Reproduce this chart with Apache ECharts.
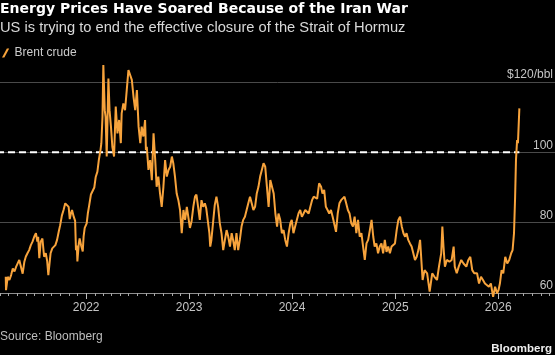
<!DOCTYPE html>
<html><head><meta charset="utf-8">
<script src="https://cdn.jsdelivr.net/npm/echarts@6/dist/echarts.min.js"></script>
<style>html,body{margin:0;padding:0;background:#000;}#c{width:555px;height:355px;}</style>
</head><body><div id="c"></div>
<script>
// ---- data ----
const dates = [
'2021-03-22','2021-03-23','2021-03-29','2021-04-04','2021-04-10','2021-04-16','2021-04-22','2021-04-28','2021-05-03','2021-05-09','2021-05-15','2021-05-21','2021-05-27','2021-06-01','2021-06-07','2021-06-13','2021-06-19','2021-06-25','2021-07-01','2021-07-07','2021-07-12','2021-07-15','2021-07-19','2021-07-24','2021-07-30','2021-08-05','2021-08-11','2021-08-16','2021-08-20','2021-08-28','2021-09-03','2021-09-09','2021-09-14','2021-09-20','2021-09-26','2021-10-01','2021-10-07','2021-10-13','2021-10-19','2021-10-25','2021-10-31','2021-11-04','2021-11-08','2021-11-12','2021-11-18','2021-11-23','2021-11-26','2021-11-29','2021-12-01','2021-12-06','2021-12-09','2021-12-14','2021-12-20','2021-12-23','2021-12-27',
'2022-01-03','2022-01-07','2022-01-12','2022-01-18','2022-01-24','2022-01-30','2022-02-04','2022-02-10','2022-02-15','2022-02-21','2022-02-24','2022-02-28','2022-03-03','2022-03-08','2022-03-11','2022-03-15','2022-03-21','2022-03-25','2022-03-30','2022-04-04','2022-04-10','2022-04-16','2022-04-22','2022-04-28','2022-05-04','2022-05-07','2022-05-13','2022-05-19','2022-05-25','2022-05-31','2022-06-06','2022-06-12','2022-06-18','2022-06-24','2022-06-30','2022-07-06','2022-07-12','2022-07-17','2022-07-23','2022-07-29','2022-08-01','2022-08-04','2022-08-10','2022-08-16','2022-08-22','2022-08-28','2022-09-03','2022-09-08','2022-09-14','2022-09-20','2022-09-26','2022-10-02','2022-10-08','2022-10-14','2022-10-20','2022-10-26','2022-11-01','2022-11-06','2022-11-12','2022-11-18','2022-11-24','2022-11-30','2022-12-06','2022-12-12','2022-12-18','2022-12-24','2022-12-30',
'2023-01-04','2023-01-10','2023-01-16','2023-01-22','2023-01-27','2023-02-02','2023-02-08','2023-02-14','2023-02-20','2023-02-26','2023-03-03','2023-03-09','2023-03-14','2023-03-17','2023-03-21','2023-03-27','2023-04-02','2023-04-08','2023-04-14','2023-04-20','2023-04-26','2023-05-02','2023-05-08','2023-05-14','2023-05-20','2023-05-26','2023-06-01','2023-06-06','2023-06-12','2023-06-18','2023-06-24','2023-06-30','2023-07-06','2023-07-12','2023-07-18','2023-07-24','2023-07-30','2023-08-05','2023-08-11','2023-08-17','2023-08-23','2023-08-29','2023-09-04','2023-09-10','2023-09-16','2023-09-22','2023-09-28','2023-10-04','2023-10-10','2023-10-16','2023-10-22','2023-10-28','2023-11-03','2023-11-09','2023-11-14','2023-11-20','2023-11-26','2023-12-02','2023-12-08','2023-12-14','2023-12-20','2023-12-26','2023-12-31',
'2024-01-06','2024-01-12','2024-01-18','2024-01-24','2024-01-30','2024-02-05','2024-02-11','2024-02-17','2024-02-23','2024-02-29','2024-03-06','2024-03-12','2024-03-18','2024-03-24','2024-03-30','2024-04-06','2024-04-13','2024-04-18','2024-04-24','2024-04-30','2024-05-06','2024-05-12','2024-05-18','2024-05-24','2024-05-30','2024-06-05','2024-06-11','2024-06-17','2024-06-23','2024-06-29','2024-07-05','2024-07-11','2024-07-17','2024-07-23','2024-07-29','2024-08-04','2024-08-10','2024-08-16','2024-08-22','2024-08-28','2024-09-03','2024-09-09','2024-09-15','2024-09-21','2024-09-27','2024-10-03','2024-10-09','2024-10-15','2024-10-20','2024-10-26','2024-11-01','2024-11-07','2024-11-13','2024-11-19','2024-11-25','2024-12-01','2024-12-07','2024-12-13','2024-12-19','2024-12-25','2024-12-31',
'2025-01-06','2025-01-12','2025-01-18','2025-01-24','2025-01-30','2025-02-05','2025-02-10','2025-02-16','2025-02-22','2025-02-28','2025-03-06','2025-03-12','2025-03-18','2025-03-24','2025-03-30','2025-04-08','2025-04-15','2025-04-24','2025-05-03','2025-05-12','2025-05-20','2025-05-29','2025-06-05','2025-06-13','2025-06-17','2025-06-21','2025-06-26','2025-07-03','2025-07-12','2025-07-20','2025-07-27','2025-07-31','2025-08-07','2025-08-14','2025-08-23','2025-08-31','2025-09-10','2025-09-17','2025-09-24','2025-10-01','2025-10-08','2025-10-18','2025-10-25','2025-11-01','2025-11-08','2025-11-15','2025-11-22','2025-11-29','2025-12-06','2025-12-14','2025-12-21','2025-12-28',
'2026-01-02','2026-01-07','2026-01-13','2026-01-19','2026-01-26','2026-02-02','2026-02-09','2026-02-16','2026-02-21','2026-02-26','2026-03-02','2026-03-05','2026-03-09','2026-03-12','2026-03-17'
];
const brent = [
64.6,60.8,64.6,63.7,65.1,67.0,66.1,67.5,68.0,69.4,68.9,65.5,68.9,70.3,71.3,72.2,73.6,74.6,76.0,77.0,74.6,76.0,69.9,74.6,75.5,70.3,71.3,69.0,65.1,71.3,72.7,72.2,73.6,75.1,77.5,79.3,82.0,83.6,85.5,86.0,84.5,81.0,82.6,83.6,81.7,80.5,72.2,73.5,69.0,74.1,75.5,73.6,71.8,76.0,78.5,
79.8,82.6,85.0,88.0,88.5,90.0,93.0,94.5,97.8,100.7,102.6,110.1,124.8,112.0,110.1,98.8,121.0,112.0,107.3,101.6,98.8,113.0,105.4,109.2,102.6,111.1,113.9,112.0,117.7,123.4,122.9,120.6,115.8,112.0,117.7,107.3,102.6,107.3,104.5,109.2,100.7,101.6,95.0,97.8,92.1,105.4,97.8,90.2,93.1,88.3,84.5,90.2,97.8,93.1,95.0,95.9,98.8,96.9,93.1,88.3,86.4,83.6,77.0,83.6,80.8,84.5,84.5,
78.5,80.5,84.5,87.4,88.0,84.5,80.8,86.4,84.5,85.5,84.0,84.5,77.0,73.2,75.0,80.0,85.0,87.4,84.5,79.8,77.0,72.2,75.1,77.9,76.0,73.2,77.0,75.1,72.2,77.0,72.2,75.1,78.9,80.8,81.7,83.6,85.5,87.4,85.5,83.6,84.5,88.3,90.2,93.1,95.0,96.9,95.9,90.2,84.5,92.1,90.2,88.3,82.6,78.9,82.6,80.8,77.0,77.9,75.1,73.2,77.0,79.8,80.8,
77.0,78.9,78.9,82.6,83.6,81.7,82.6,83.6,83.6,82.6,84.5,86.4,87.4,87.0,86.8,91.2,90.2,88.3,89.3,84.5,83.6,82.6,83.6,81.7,81.7,77.4,82.6,85.5,86.4,86.9,87.4,85.5,83.6,82.6,79.8,78.9,81.7,77.0,80.8,76.0,77.0,73.2,69.4,74.1,75.1,77.9,80.8,76.0,73.2,74.1,71.3,73.2,74.1,71.3,75.1,71.7,73.2,71.3,73.2,73.2,74.1,
77.9,80.8,81.7,78.9,77.0,76.0,77.0,75.1,74.1,73.2,71.3,69.4,70.3,72.2,75.1,63.7,66.5,65.6,60.4,65.6,64.6,63.7,67.5,71.3,78.9,73.2,67.5,69.4,68.9,69.4,73.2,67.5,65.6,67.5,69.4,68.4,67.5,69.4,70.3,66.5,65.6,65.6,62.7,64.6,63.7,62.7,63.2,61.8,62.7,58.9,61.8,59.9,
60.8,62.7,66.5,65.6,70.3,68.4,69.4,71.3,72.2,77.0,87.4,97.8,103.5,102.6,112.5
];
const refLevel = 100;
const yTickValues = [60, 80, 100, 120];
const yTickLabels = ['60', '80', '100', '$120/bbl'];
const axisStart = '2021-02-19';
const axisEnd = '2026-08-01';

const DAY = 86400000;
const FONT = 'Liberation Sans';
const chart = echarts.init(document.getElementById('c'), null, {renderer: 'canvas'});
chart.setOption({
  backgroundColor: '#000',
  animation: false,
  textStyle: {fontFamily: FONT},
  title: [
    {text: 'Energy Prices Have Soared Because of the Iran War',
     subtext: 'US is trying to end the effective closure of the Strait of Hormuz',
     left: 0, top: 2, padding: 0, itemGap: 4,
     textStyle: {color: '#ffffff', fontSize: 14, fontWeight: 'bold', fontFamily: 'DejaVu Sans'},
     subtextStyle: {color: '#d9d9d9', fontSize: 14.7, fontFamily: FONT}},
    {text: 'Source: Bloomberg', left: 0, top: 331, padding: 0,
     textStyle: {color: '#bdbdbd', fontSize: 12, fontWeight: 'normal', fontFamily: FONT}},
    {text: 'Bloomberg', right: 3, top: 343, padding: 0,
     textStyle: {color: '#eeeeee', fontSize: 11.5, fontWeight: 'bold', fontFamily: FONT}}
  ],
  legend: {
    left: 2, top: 47, padding: 0, itemWidth: 8, itemHeight: 9,
    data: [{name: 'Brent crude', icon: 'path://M0,10 L2.6,10 L8,0 L5.4,0 Z'}],
    textStyle: {color: '#cccccc', fontSize: 12, fontFamily: FONT}
  },
  grid: {left: -3, right: -3, top: 82, bottom: 62, containLabel: false, outerBoundsMode: 'none'},
  xAxis: [
    {type: 'time', min: axisStart, max: axisEnd,
     minInterval: 31 * DAY, maxInterval: 31 * DAY,
     axisLine: {show: true, lineStyle: {color: '#8f8f8f', width: 1}},
     axisTick: {show: true, length: 3, lineStyle: {color: '#a8a8a8', width: 1}},
     axisLabel: {show: true, fontSize: 6, color: 'rgba(0,0,0,0)', formatter: '{M}'},
     splitLine: {show: false}},
    {type: 'time', min: axisStart, max: axisEnd, position: 'bottom', offset: 0,
     minInterval: 365 * DAY, maxInterval: 365 * DAY,
     axisLine: {show: true, lineStyle: {color: '#8f8f8f', width: 1}},
     axisTick: {show: true, length: 6, lineStyle: {color: '#bdbdbd', width: 1}},
     axisLabel: {show: true, color: '#c4c4c4', fontSize: 12, margin: 9, fontFamily: FONT,
       formatter: function (v) {
         const d = new Date(v);
         return (d.getMonth() === 0 && d.getDate() === 1) ? String(d.getFullYear()) : '';
       }},
     splitLine: {show: false}}
  ],
  yAxis: {
    type: 'value', position: 'right', min: 60, max: 120, interval: 20,
    axisLine: {show: false}, axisTick: {show: false},
    splitLine: {show: true, lineStyle: {color: '#4a4a4a', width: 1}},
    axisLabel: {inside: true, margin: 5, color: '#c4c4c4', fontSize: 12, fontFamily: FONT,
      verticalAlign: 'bottom', padding: [0, 0, 1, 0],
      formatter: function (v) {
        const i = yTickValues.indexOf(v);
        return i >= 0 ? yTickLabels[i] : '';
      }}
  },
  series: [
    {name: 'ref', type: 'line', xAxisIndex: 0, silent: true, symbol: 'none', z: 2,
     data: [[axisStart, refLevel], [dates[dates.length - 1], refLevel]],
     lineStyle: {color: '#ffffff', width: 2, type: [7, 4]}},
    {name: 'Brent crude', type: 'line', xAxisIndex: 0, symbol: 'none', showSymbol: false,
     clip: false, z: 3,
     data: dates.map(function (d, i) { return [d, brent[i]]; }),
     itemStyle: {color: '#f7a33c'},
     lineStyle: {color: '#f7a33c', width: 2}}
  ]
});
</script>
</body></html>
